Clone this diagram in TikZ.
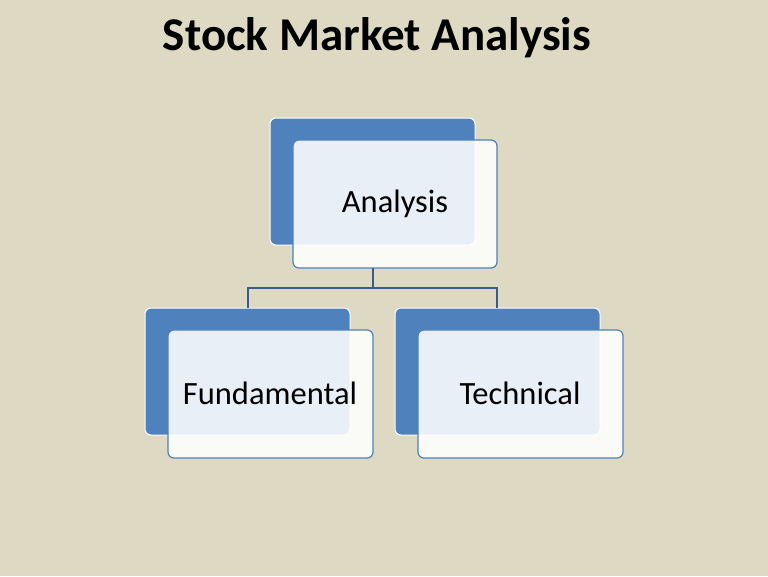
\documentclass[tikz,border=0pt]{standalone}
\usepackage{fontspec}
\setmainfont{Carlito}
\begin{document}
\begin{tikzpicture}[x=1pt,y=-1pt,
  back/.style={fill=blueA,draw=white,line width=1pt,rounded corners=6pt},
  front/.style={fill=white,fill opacity=0.88,text opacity=1,draw=blueA,line width=1.2pt,rounded corners=6pt},
  lab/.style={font=\fontsize{32.5}{38}\selectfont},
  conn/.style={draw=blueB,line width=1.2pt}]
\definecolor{bg}{HTML}{DDD9C3}
\definecolor{blueA}{HTML}{4F81BD}
\definecolor{blueB}{HTML}{385D8A}
\fill[bg] (0,0) rectangle (768,576);
\useasboundingbox (0,0) rectangle (768,576);
\node[font=\bfseries\fontsize{47}{54}\selectfont] (title) at (377,38) {Stock Market Analysis};
% top
\path[back] (270,118) rectangle (475,245);
\path[front] (293,140) rectangle (497,268);
\node[lab] (a) at (395,204) {Analysis};
% left
\path[back] (145,308) rectangle (350,435);
\path[front] (168,330) rectangle (373,458);
\node[lab] (f) at (270,393) {Fundamental};
% right
\path[back] (395,308) rectangle (600,435);
\path[front] (418,330) rectangle (623,458);
\node[lab] (t) at (520,393) {Technical};
\coordinate (ta) at (373,268);
\coordinate (tf) at (248,308);
\coordinate (tt) at (497,308);
\draw[conn] (ta) -- (373,288) -| (tf);
\draw[conn] (373,288) -| (tt);
\end{tikzpicture}
\end{document}
